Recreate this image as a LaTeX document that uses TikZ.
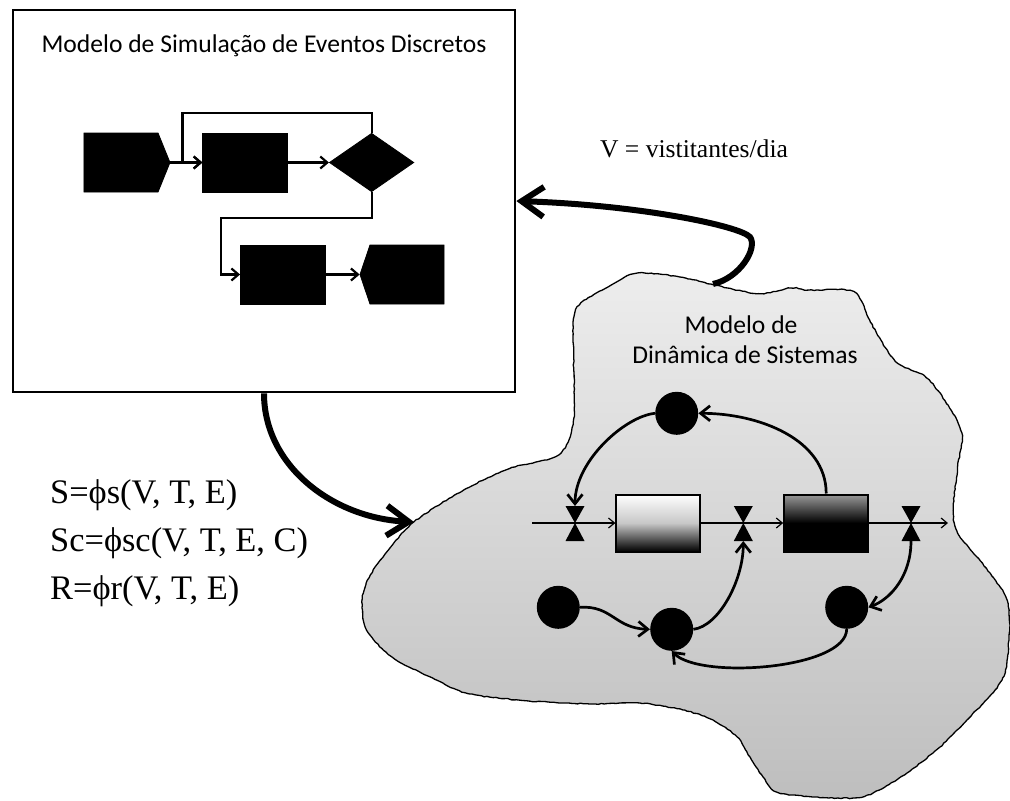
\documentclass[tikz,border=0pt]{standalone}
\usepackage{fontspec}
\setmainfont{Liberation Serif}
\newfontfamily\calib{Carlito}
\usetikzlibrary{arrows.meta,shapes.geometric,shapes.symbols,decorations.pathmorphing}
\definecolor{blobtop}{RGB}{237,237,237}
\definecolor{blobbot}{RGB}{190,190,190}
\begin{document}
\begin{tikzpicture}[x=1pt,y=-1pt,
  blackshape/.style={fill=black,draw=black,line width=0.8pt,inner sep=0pt},
  procbox/.style={blackshape,rectangle,minimum width=85pt,minimum height=59pt},
  chartline/.style={line width=2.2pt,-{Straight Barb[length=7pt,width=12pt]}},
  thickarrow/.style={line width=6pt,-{Straight Barb[length=22pt,width=30pt]}},
  linkarrow/.style={line width=2.7pt,-{Straight Barb[length=9.5pt,width=15pt]}},
  flowarrow/.style={line width=1.2pt,-{Straight Barb[length=6pt,width=10pt]}},
  aux/.style={circle,fill=black,inner sep=0pt,minimum size=43pt},
  stock/.style={rectangle,draw=black,line width=2pt,minimum width=84pt,minimum height=57pt,inner sep=0pt},
  lbl/.style={font=\calib\fontsize{25.6}{30}\selectfont,inner sep=0pt},
  eqn/.style={font=\fontsize{34.4}{40}\selectfont,inner sep=0pt,anchor=base west},
  valvepic/.pic={
    \fill[black] (-9.5,-17) -- (9.5,-17) -- (0,0) -- cycle;
    \fill[black] (-9.5,18) -- (9.5,18) -- (0,0) -- cycle;
    \coordinate (-top) at (0,-17);
    \coordinate (-bot) at (0,18);
  },
]
\useasboundingbox (0,0) rectangle (1010,801);

% system dynamics region
\pgfmathsetseed{11}
\path[draw=black,line width=1.3pt,top color=blobtop,bottom color=blobbot,
  decoration={random steps,segment length=3pt,amplitude=0.5pt},decorate]
  plot[smooth cycle,tension=0.5] coordinates {
  (575.8,309.6) (609,286.4) (633,274) (658.8,273.9) (690,279) (712.7,284.6)
  (758.3,293.6) (790,288) (808.1,290) (853.8,291.8) (870.4,322) (895.3,361.4)
  (924.3,375.7) (945,400.7) (961.7,432.9) (957.5,468.6) (953.4,507.9)
  (957.5,532.9) (986.6,568.6) (1007.3,600.7) (1009,640) (1002,680) (967,720)
  (940,747) (907,773) (873,793) (853,798) (813,797) (777,792) (763,777)
  (750,757) (737,737) (713,720) (683,710) (640,703) (592.4,704) (526,700.7)
  (467.9,693.6) (434.7,679.3) (393.2,657.9) (368.3,632.9) (362,607.9)
  (366.2,582.9) (384.9,554.3) (413.9,522) (463.7,490) (509.4,468.6)
  (559.2,454.3) (573.7,418.6) (573.7,357.9)};
\coordinate (blobN) at (713,284);
\coordinate (blobW) at (414,522);

\node[lbl,anchor=base] (sdA) at (741,333) {Modelo de};
\node[lbl,anchor=base] (sdB) at (745,363) {Dinâmica de Sistemas};

% stocks and flows
\node[stock,top color=white,bottom color=black,middle color=black!22] (s1) at (658.4,523) {};
\node[stock,top color=black!40,bottom color=black,middle color=black] (s2) at (826.2,523) {};
\coordinate (fs) at (532,523);
\coordinate (fe) at (948,523);
\draw[flowarrow] (fs) -- (s1.west);
\draw[flowarrow] (s1.east) -- (s2.west);
\draw[flowarrow] (s2.east) -- (fe);
\pic (v1) at (575,523) {valvepic};
\pic (v2) at (743.3,523) {valvepic};
\pic (v3) at (911,523) {valvepic};

\node[aux] (tc) at (676.7,413.3) {};
\node[aux] (bl) at (558.3,607.3) {};
\node[aux] (bm) at (671.7,629.3) {};
\node[aux] (br) at (846.7,607.3) {};

\draw[linkarrow] (s2.north) .. controls +(0,-54) and +(61,0) .. (tc.east);
\draw[linkarrow] (tc.west) .. controls +(-30,3) and +(0,-45) .. (v1-top);
\draw[linkarrow] (bl.east) .. controls +(32,-2) and +(-35,-1) .. (bm.west);
\draw[linkarrow] (bm.east) .. controls +(25,-3) and +(0,40) .. (v2-bot);
\draw[linkarrow] (v3-bot) .. controls +(0,35) and +(22,-8) .. (br.east);
\draw[linkarrow] (br.south) .. controls +(0,40) and +(28,29) .. (bm.south);

% discrete event model
\node[draw=black,line width=2.7pt,minimum width=502pt,minimum height=382pt,inner sep=0pt,fill=white] (desbox) at (264,201) {};
\node[lbl,anchor=base] (title) at (264,52) {Modelo de Simulação de Eventos Discretos};

\node[blackshape,signal,signal from=nowhere,signal to=east,signal pointer angle=136,minimum width=86pt,minimum height=59pt] (n1) at (121,162.5) {};
\node[procbox] (n2) at (245.3,162.5) {};
\node[blackshape,diamond,minimum width=84.5pt,minimum height=58.5pt] (dm) at (371.6,162.5) {};
\node[procbox] (n4) at (283,274.5) {};
\node[blackshape,signal,signal from=nowhere,signal to=west,signal pointer angle=143,minimum width=84pt,minimum height=59pt] (n5) at (407,274.5) {};

\coordinate (j0) at (182.4,113.3);
\coordinate (j2) at (221,218);
\draw[chartline] (n1.east) -- (n2.west);
\draw[chartline] (dm.north) |- (j0) |- (n2.west);
\draw[chartline] (n2.east) -- (dm.west);
\draw[chartline] (dm.south) |- (j2) |- (n4.west);
\draw[chartline] (n4.east) -- (n5.west);

% coupling between the two models
\draw[thickarrow] (desbox.south) .. controls +(0,72) and +(-82,-4) .. (blobW);
\draw[thickarrow] (blobN) .. controls (740,278) and (758,248) .. (750,237)
  .. controls (740,226) and (640,205) .. (desbox.east);

\node[font=\fontsize{25.6}{30}\selectfont,anchor=base,inner sep=0pt] (vlab) at (694,157) {V = vistitantes/dia};
\node[eqn] (eq1) at (50,503) {S=ϕs(V, T, E)};
\node[eqn] (eq2) at (50,551) {Sc=ϕsc(V, T, E, C)};
\node[eqn] (eq3) at (50,599) {R=ϕr(V, T, E)};
\end{tikzpicture}
\end{document}
